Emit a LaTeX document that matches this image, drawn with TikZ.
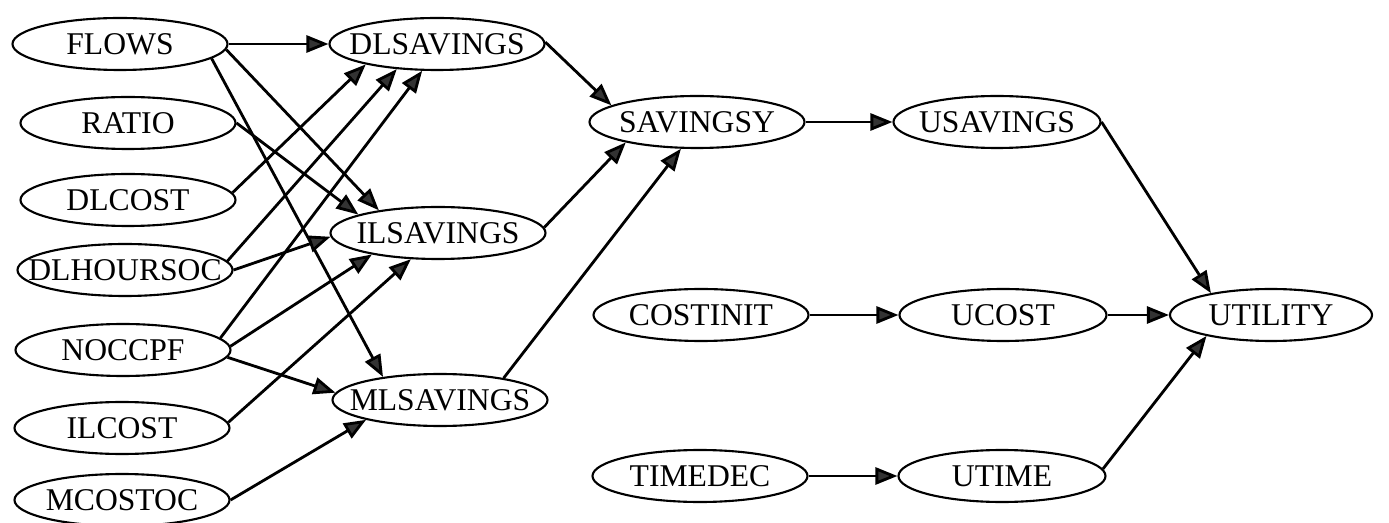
\documentclass[tikz,border=0pt]{standalone}
\usepackage{fontspec}
\setmainfont{Liberation Serif}
\usetikzlibrary{shapes.geometric,arrows.meta}

\tikzset{
  var/.style={ellipse,draw,line width=1.2pt,minimum width=4.3cm,minimum height=1.04cm,
    inner xsep=-0.6cm,inner ysep=0pt,font=\fontsize{18}{20}\selectfont},
  link/.style={-{Triangle[length=0.44cm,width=0.34cm,fill=black!80]},line width=1.6pt}
}

\begin{document}
\begin{tikzpicture}
    \useasboundingbox (0,0) rectangle (27.78,-10.46);

    % inputs
    \node[var] (flows) at (2.40,-0.88) {FLOWS};
    \node[var] (ratio) at (2.56,-2.46) {RATIO};
    \node[var] (dlcost) at (2.56,-4.00) {DLCOST};
    \node[var] (dlhours) at (2.50,-5.40) {DLHOURSOC};
    \node[var] (noccpf) at (2.46,-7.00) {NOCCPF};
    \node[var] (ilcost) at (2.44,-8.56) {ILCOST};
    \node[var] (mcostoc) at (2.44,-10.00) {MCOSTOC};

    % savings
    \node[var] (dls) at (8.74,-0.88) {DLSAVINGS};
    \node[var] (ils) at (8.76,-4.66) {ILSAVINGS};
    \node[var] (mls) at (8.80,-8.00) {MLSAVINGS};

    \node[var] (savy) at (13.94,-2.44) {SAVINGSY};
    \node[var] (costinit) at (14.02,-6.30) {COSTINIT};
    \node[var] (timedec) at (14.00,-9.52) {TIMEDEC};

    % utilities
    \node[var,minimum width=4.14cm] (usav) at (19.94,-2.44) {USAVINGS};
    \node[var,minimum width=4.14cm] (ucost) at (20.06,-6.30) {UCOST};
    \node[var,minimum width=4.14cm] (utime) at (20.04,-9.52) {UTIME};
    \node[var,minimum width=4.04cm] (utility) at (25.42,-6.30) {UTILITY};

    \draw[link] (flows.east) -- (dls.west);
    \draw[link] (flows.-3) -- (ils.159);
    \draw[link] (flows.-9) -- (mls.158);
    \draw[link] (ratio.0) -- (ils.167);
    \draw[link] (dlcost.4) -- (dls.196);
    \draw[link] (dlhours.5) -- (dls.212);
    \draw[link] (dlhours.0) -- (ils.182);
    \draw[link] (noccpf.7) -- (dls.241);
    \draw[link] (noccpf.2) -- (ils.198);
    \draw[link] (noccpf.-4) -- (mls.176);
    \draw[link] (ilcost.3) -- (ils.224);
    \draw[link] (mcostoc.0) -- (mls.195);

    \draw[link] (dls.1) -- (savy.169);
    \draw[link] (ils.3) -- (savy.196);
    \draw[link] (mls.19) -- (savy.239);

    \draw[link] (savy.east) -- (usav.west);
    \draw[link] (costinit.east) -- (ucost.west);
    \draw[link] (timedec.east) -- (utime.west);

    \draw[link] (usav.0) -- (utility.160);
    \draw[link] (ucost.east) -- (utility.west);
    \draw[link] (utime.4) -- (utility.198);
\end{tikzpicture}
\end{document}
